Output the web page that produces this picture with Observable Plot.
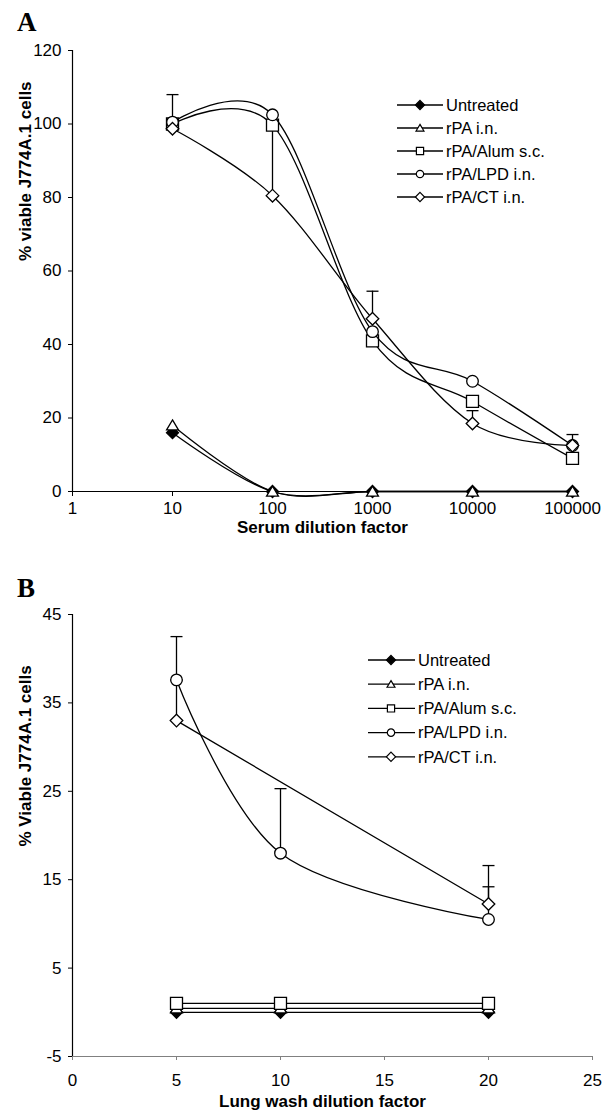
<!DOCTYPE html>
<html><head><meta charset="utf-8">
<script src="https://cdn.jsdelivr.net/npm/d3@7"></script>
<script src="https://cdn.jsdelivr.net/npm/@observablehq/plot@0.6"></script>
<style>
body{margin:0;background:#fff;}
#wrap{position:relative;width:607px;height:1114px;font-family:"Liberation Sans",Arial,sans-serif;background:#fff;}
.panel{position:absolute;left:0;}
.plabel{position:absolute;font-family:"Liberation Serif","Times New Roman",serif;font-weight:bold;font-size:27px;line-height:1;}
#legend{position:absolute;left:0;top:0;pointer-events:none;}
</style></head><body><div id="wrap"></div>
<script>
// ---------- data ----------
const seriesNames = ["Untreated", "rPA i.n.", "rPA/Alum s.c.", "rPA/LPD i.n.", "rPA/CT i.n."];

// Panel A
const dilA = [10, 100, 1000, 10000, 100000];
const untreatedA = [16, 0, 0, 0, 0];
const rpaA = [18, 0, 0, 0, 0];
const alumA = [100, 99.7, 41, 24.5, 9];
const lpdA = [100.5, 102.5, 43.5, 30, 12.5];
const ctA = [98.7, 80.5, 47, 18.5, 12.5];
const errAx = [10, 100, 1000, 10000, 100000];
const errAlo = [100, 80.5, 47, 18.5, 12.5];
const errAhi = [108, 99.5, 54.5, 22, 15.5];
const xTicksA = [1, 10, 100, 1000, 10000, 100000];
const yTicksA = [0, 20, 40, 60, 80, 100, 120];

// Panel B
const dilB = [5, 10, 20];
const untreatedB = [0, 0, 0];
const rpaB = [0.45, 0.45, 0.45];
const alumB = [1, 1, 1];
const lpdB = [37.6, 18, 10.5];
const ctB = [33, null, 12.25];
const errBx = [5, 5, 10, 20, 20];
const errBlo = [33, 37.6, 18, 12.25, 10.5];
const errBhi = [37.6, 42.5, 25.3, 16.6, 14.2];
const xTicksB = [0, 5, 10, 15, 20, 25];
const yTicksB = [-5, 5, 15, 25, 35, 45];

// ---------- symbols ----------
function sym(fn) { return {draw(ctx, size) { const r = Math.sqrt(size / Math.PI); fn(ctx, r); }}; }
const symSquare = sym((c, r) => { c.rect(-r, -r, 2 * r, 2 * r); });
const symCircle = sym((c, r) => { c.moveTo(r, 0); c.arc(0, 0, r, 0, 2 * Math.PI); });
const symTriangle = sym((c, r) => { c.moveTo(0, -r); c.lineTo(r * 1.1, r * 0.85); c.lineTo(-r * 1.1, r * 0.85); c.closePath(); });
const symDiamond = sym((c, r) => { c.moveTo(0, -r); c.lineTo(r, 0); c.lineTo(0, r); c.lineTo(-r, 0); c.closePath(); });
const symCap = sym((c, r) => { c.moveTo(-r, 0); c.lineTo(r, 0); });

const styles = [
  {symbol: symDiamond, fill: "black", r: 6},
  {symbol: symTriangle, fill: "white", r: 5.4},
  {symbol: symSquare, fill: "white", r: 6},
  {symbol: symCircle, fill: "white", r: 5.8},
  {symbol: symDiamond, fill: "white", r: 6.3}
];

function table(xs, ys) { return xs.map((x, i) => ({x, y: ys[i]})).filter(d => d.y != null); }
function errTable(xs, lo, hi) { return xs.map((x, i) => ({x, lo: lo[i], hi: hi[i]})); }

function seriesMarks(seriesList) {
  const marks = [];
  seriesList.forEach((tbl, k) => {
    const s = styles[k];
    marks.push(Plot.line(tbl, {x: "x", y: "y", curve: "cardinal", stroke: "black", strokeWidth: 1.3}));
    marks.push(Plot.dot(tbl, {x: "x", y: "y", symbol: s.symbol, r: s.r, fill: s.fill, stroke: "black", strokeWidth: 1.3}));
  });
  return marks;
}
function errMarks(err) {
  return [
    Plot.ruleX(err, {x: "x", y1: "lo", y2: "hi", stroke: "black", strokeWidth: 1.3}),
    Plot.dot(err, {x: "x", y: "hi", symbol: symCap, r: 6, stroke: "black", strokeWidth: 1.3})
  ];
}

const wrap = document.getElementById("wrap");
const font = "Liberation Sans, Arial, sans-serif";
const tickFont = 17;
const titleFont = 17;

// ---------- Panel A ----------
const plotA = Plot.plot({
  width: 607, height: 556,
  marginLeft: 72, marginRight: 35, marginTop: 50, marginBottom: 65,
  style: {fontFamily: font, fontSize: "17px", color: "black", background: "white", overflow: "visible"},
  x: {type: "log", domain: [1, 100000]},
  y: {domain: [0, 120]},
  marks: [
    Plot.ruleX([1], {stroke: "black", strokeWidth: 1.2}),
    Plot.ruleY([0], {stroke: "black", strokeWidth: 1.2}),
    Plot.axisX({ticks: xTicksA, tickFormat: d => String(d), tickSize: 5, tickPadding: 5, fontSize: tickFont, label: null}),
    Plot.axisY({ticks: yTicksA, tickFormat: d => String(d), tickSize: 4, tickPadding: 7, fontSize: tickFont, label: null}),
    Plot.text(["Serum dilution factor"], {text: d => d, frameAnchor: "bottom", dy: 36, fontWeight: "bold", fontSize: titleFont, lineAnchor: "middle"}),
    Plot.text(["% viable J774A.1 cells"], {text: d => d, frameAnchor: "left", rotate: -90, dx: -47, dy: -10, fontWeight: "bold", fontSize: titleFont}),
    ...errMarks(errTable(errAx, errAlo, errAhi)),
    ...seriesMarks([table(dilA, untreatedA), table(dilA, rpaA), table(dilA, alumA), table(dilA, lpdA), table(dilA, ctA)])
  ]
});
const divA = document.createElement("div");
divA.className = "panel"; divA.style.top = "0px";
divA.appendChild(plotA);
wrap.appendChild(divA);

// ---------- Panel B ----------
const plotB = Plot.plot({
  width: 607, height: 558,
  marginLeft: 72, marginRight: 15, marginTop: 58, marginBottom: 58,
  style: {fontFamily: font, fontSize: "17px", color: "black", background: "white", overflow: "visible"},
  x: {domain: [0, 25]},
  y: {domain: [-5, 45]},
  marks: [
    Plot.ruleX([0], {stroke: "black", strokeWidth: 1.2}),
    Plot.ruleY([-5], {stroke: "#808080", strokeWidth: 1.2}),
    Plot.axisX({ticks: xTicksB, tickFormat: d => String(d), tickSize: 4, tickPadding: 13, fontSize: tickFont, stroke: "#808080", fill: "black", label: null}),
    Plot.axisY({ticks: yTicksB, tickFormat: d => String(d), tickSize: 4, tickPadding: 7, fontSize: tickFont, label: null}),
    Plot.text(["Lung wash dilution factor"], {text: d => d, frameAnchor: "bottom", dx: -10, dy: 45, fontWeight: "bold", fontSize: titleFont, lineAnchor: "middle"}),
    Plot.text(["% Viable J774A.1 cells"], {text: d => d, frameAnchor: "left", rotate: -90, dx: -47, dy: 11, fontWeight: "bold", fontSize: titleFont}),
    ...errMarks(errTable(errBx, errBlo, errBhi)),
    ...seriesMarks([table(dilB, untreatedB), table(dilB, rpaB), table(dilB, alumB), table(dilB, lpdB), table(dilB, ctB)])
  ]
});
const divB = document.createElement("div");
divB.className = "panel"; divB.style.top = "556px";
divB.appendChild(plotB);
wrap.appendChild(divB);

// ---------- panel letters ----------
[["A", 17, 9], ["B", 17, 575]].forEach(([t, x, y]) => {
  const d = document.createElement("div");
  d.className = "plabel"; d.textContent = t;
  d.style.left = x + "px"; d.style.top = y + "px";
  wrap.appendChild(d);
});

// ---------- legends ----------
const legendSizes = [4.6, 3.6, 3.6, 3.7, 4.6];
const svg = d3.select(wrap).append("svg").attr("id", "legend").attr("width", 607).attr("height", 1114);
function legend(x1, x2, xm, xt, y0, step) {
  seriesNames.forEach((name, k) => {
    const y = y0 + k * step;
    svg.append("line").attr("x1", x1).attr("x2", x2).attr("y1", y).attr("y2", y).attr("stroke", "black").attr("stroke-width", 1.3);
    svg.append("path").attr("d", d3.symbol(styles[k].symbol, legendSizes[k] ** 2 * Math.PI)())
      .attr("transform", `translate(${xm},${y})`).attr("fill", styles[k].fill).attr("stroke", "black").attr("stroke-width", 1.2);
    svg.append("text").attr("x", xt).attr("y", y).attr("dy", "0.35em").attr("font-family", font).attr("font-size", 16.5).text(name);
  });
}
legend(397, 443, 420, 446, 105, 23);
legend(368, 415, 391, 418, 660, 24.2);
</script></body></html>
